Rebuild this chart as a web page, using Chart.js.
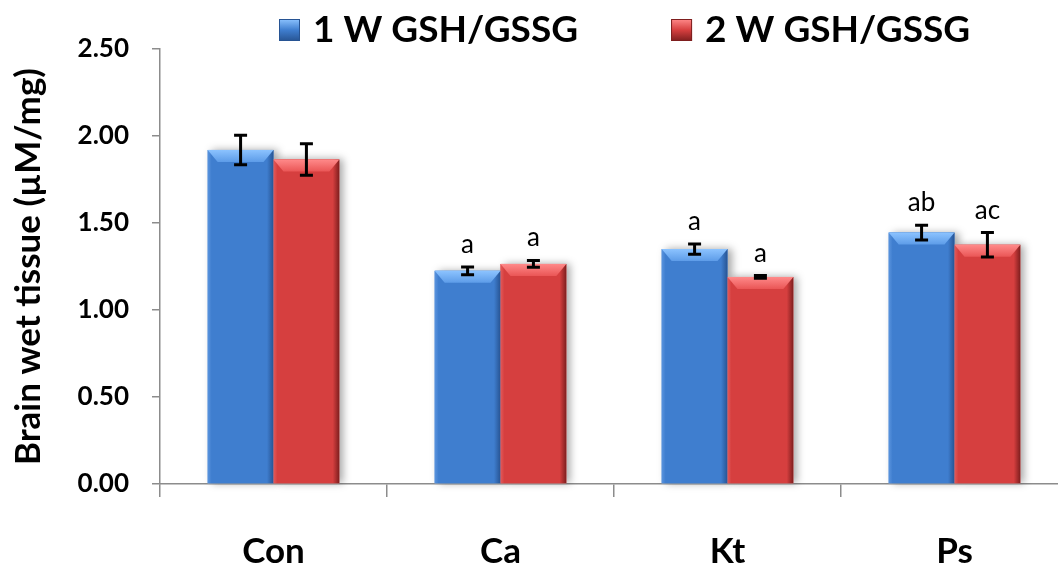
<!DOCTYPE html>
<html>
<head>
<meta charset="utf-8">
<script src="https://cdn.jsdelivr.net/npm/chart.js@4.4.0/dist/chart.umd.min.js"></script>
<style>
  html, body { margin: 0; padding: 0; background: #fff; overflow: hidden; }
  #wrap { width: 1058px; height: 565px; overflow: hidden; }
</style>
</head>
<body>
<div id="wrap"><canvas id="chart" width="1068" height="565"></canvas></div>
<script>
// ---------------- data ----------------
const categories = ['Con', 'Ca', 'Kt', 'Ps'];
const seriesNames = ['1 W GSH/GSSG', '2 W GSH/GSSG'];
const week1 = [1.92, 1.225, 1.35, 1.445];
const week2 = [1.865, 1.265, 1.19, 1.375];
const week1Err = [0.085, 0.022, 0.03, 0.042];
const week2Err = [0.09, 0.02, 0.008, 0.07];
const week1Sig = ['', 'a', 'a', 'ab'];
const week2Sig = ['', 'a', 'a', 'ac'];
const yMin = 0, yMax = 2.5, yStep = 0.5;

const palette = [
    {face: '#3f7ecf', light: '#8cc3ff', mid: '#5d9ce8', dark: '#275493', edge: '#5a94de'},
    {face: '#d63f3f', light: '#ff8a8a', mid: '#ea5656', dark: '#7e1e1e', edge: '#e25a5a'}
];
const errs = [week1Err, week2Err];
const sigs = [week1Sig, week2Sig];

//------------------------plugins----------------------------------//
const bar3d = {
    id: 'bar3d',
    beforeDatasetsDraw(chart) {
        const ctx = chart.ctx;
        chart.data.datasets.forEach((ds, i) => {
            chart.getDatasetMeta(i).data.forEach(bar => {
                ctx.save();
                ctx.shadowColor = 'rgba(0,0,0,0.35)';
                ctx.shadowBlur = 8;
                ctx.shadowOffsetX = 4;
                ctx.fillStyle = '#fff';
                ctx.fillRect(bar.x - bar.width / 2, bar.y, bar.width, bar.base - bar.y);
                ctx.restore();
            });
        });
    },
    afterDatasetsDraw(chart) {
        const ctx = chart.ctx;
        chart.data.datasets.forEach((ds, i) => {
            const c = palette[i];
            chart.getDatasetMeta(i).data.forEach(bar => {
                const l = bar.x - bar.width / 2, r = bar.x + bar.width / 2;
                const t = bar.y, b = bar.base, w = bar.width;
                ctx.save();
                const g = ctx.createLinearGradient(l, 0, r, 0);
                g.addColorStop(0, c.edge);
                g.addColorStop(0.06, c.face);
                g.addColorStop(0.9, c.face);
                g.addColorStop(1, c.dark);
                ctx.fillStyle = g;
                ctx.fillRect(l, t, w, b - t);
                // top bevel
                const bh = 12, inset = 10;
                const tg = ctx.createLinearGradient(0, t, 0, t + bh);
                tg.addColorStop(0, c.light);
                tg.addColorStop(1, c.mid);
                ctx.fillStyle = tg;
                ctx.beginPath();
                ctx.moveTo(l, t);
                ctx.lineTo(r, t);
                ctx.lineTo(r - inset, t + bh);
                ctx.lineTo(l + inset, t + bh);
                ctx.closePath();
                ctx.fill();
                ctx.restore();
            });
        });
    }
};

const errorBars = {
    id: 'errorBars',
    afterDatasetsDraw(chart) {
        const ctx = chart.ctx, y = chart.scales.y;
        chart.data.datasets.forEach((ds, i) => {
            chart.getDatasetMeta(i).data.forEach((bar, j) => {
                const v = ds.data[j], e = errs[i][j];
                const yt = y.getPixelForValue(v + e), yb = y.getPixelForValue(v - e);
                ctx.save();
                ctx.strokeStyle = '#000';
                ctx.lineWidth = 3;
                ctx.beginPath();
                ctx.moveTo(bar.x, yt); ctx.lineTo(bar.x, yb);
                ctx.moveTo(bar.x - 6.5, yt); ctx.lineTo(bar.x + 6.5, yt);
                ctx.moveTo(bar.x - 6.5, yb); ctx.lineTo(bar.x + 6.5, yb);
                ctx.stroke();
                if (sigs[i][j]) {
                    ctx.fillStyle = '#000';
                    ctx.font = '26px Lato';
                    ctx.textAlign = 'center';
                    ctx.textBaseline = 'alphabetic';
                    ctx.fillText(sigs[i][j], bar.x, yt - 14);
                }
                ctx.restore();
            });
        });
    }
};

const legendBoxes = {
    id: 'legendBoxes',
    afterDraw(chart) {
        const ctx = chart.ctx;
        ctx.save();
        ctx.font = 'bold 37px Lato';
        ctx.textBaseline = 'middle';
        let x = 279;
        const cy = 30;
        chart.data.datasets.forEach((ds, i) => {
            const c = palette[i];
            const g = ctx.createLinearGradient(0, cy - 11, 0, cy + 11);
            g.addColorStop(0, c.light);
            g.addColorStop(0.5, c.face);
            g.addColorStop(1, c.dark);
            ctx.fillStyle = g;
            ctx.fillRect(x, cy - 11, 21, 22);
            ctx.strokeStyle = c.dark;
            ctx.lineWidth = 1;
            ctx.strokeRect(x + 0.5, cy - 10.5, 20, 21);
            x += 21 + 13;
            ctx.fillStyle = '#000';
            ctx.fillText(ds.label, x, cy);
            x += ctx.measureText(ds.label).width + 93;
        });
        ctx.restore();
    }
};

//------------------------chart----------------------------------//
let chart = document.getElementById('chart').getContext('2d');

let gshChart = new Chart(chart, {
    type: 'bar',
    data: {
        labels: categories,
        datasets: [
            {label: seriesNames[0], data: week1, backgroundColor: palette[0].face, borderWidth: 0},
            {label: seriesNames[1], data: week2, backgroundColor: palette[1].face, borderWidth: 0}
        ]
    },
    options: {
        responsive: false,
        animation: false,
        categoryPercentage: 0.58,
        barPercentage: 1.0,
        layout: {padding: {top: 49, left: 0, right: 0, bottom: 0}},
        plugins: {
            legend: {display: false},
            tooltip: {enabled: false}
        },
        scales: {
            x: {
                grid: {drawOnChartArea: false, offset: true, tickLength: 13, color: '#8c8c8c', lineWidth: 1.5},
                border: {color: '#8c8c8c', width: 1.5},
                ticks: {font: {family: 'Lato', size: 35, weight: 'bold'}, color: '#000', padding: 34},
                afterFit(scale) { scale.height = 81; }
            },
            y: {
                min: yMin,
                max: yMax,
                ticks: {
                    stepSize: yStep,
                    callback: v => v.toFixed(2),
                    font: {family: 'Lato', size: 26, weight: 'bold'},
                    color: '#000',
                    padding: 23
                },
                grid: {drawOnChartArea: false, tickLength: 8, color: '#8c8c8c', lineWidth: 1.5},
                border: {color: '#8c8c8c', width: 1.5},
                title: {
                    display: true,
                    text: 'Brain wet tissue (µM/mg)',
                    font: {family: 'Lato', size: 35, weight: 'bold'},
                    color: '#000',
                    padding: {top: 8}
                },
                afterFit(scale) { scale.width = 160; }
            }
        }
    },
    plugins: [bar3d, errorBars, legendBoxes]
});
</script>
</body>
</html>
